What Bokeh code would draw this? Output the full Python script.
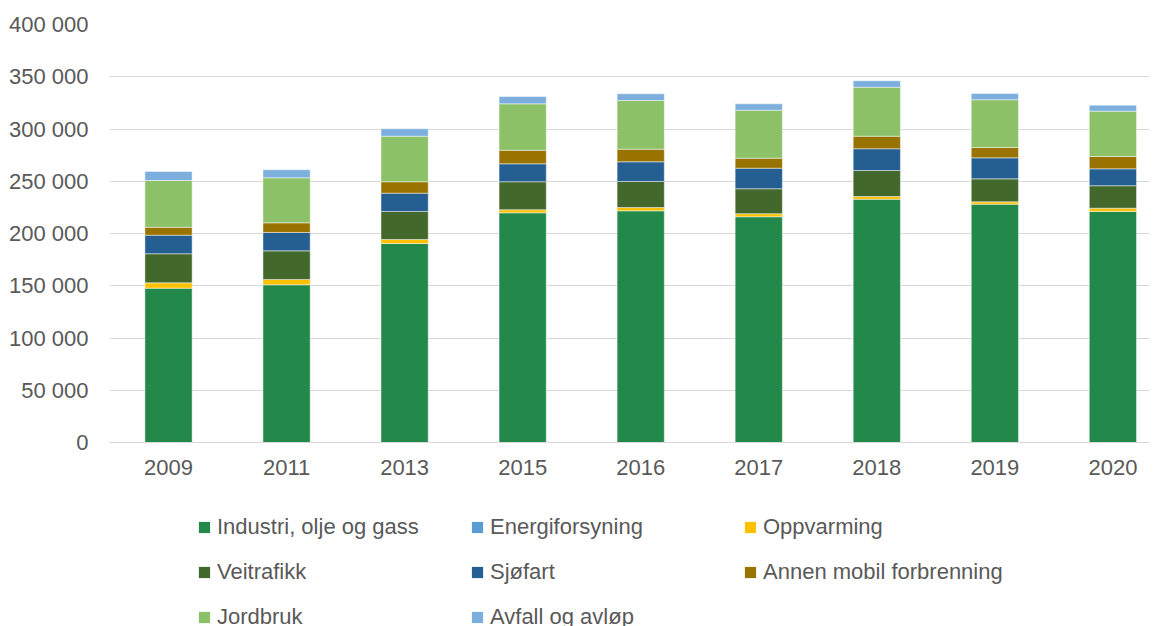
from bokeh.plotting import figure
from bokeh.layouts import column
from bokeh.models import (ColumnDataSource, Range1d, FixedTicker, Legend, LegendItem)
from bokeh.embed import file_html
from bokeh.resources import INLINE

years = ["2009", "2011", "2013", "2015", "2016", "2017", "2018", "2019", "2020"]
industri = [147700, 150900, 190400, 219800, 221700, 216000, 232800, 228100, 221100]
energiforsyning = [0, 0, 0, 0, 0, 0, 0, 0, 0]
oppvarming = [5100, 5100, 3900, 2900, 3200, 2900, 2600, 2200, 3100]
veitrafikk = [27800, 27400, 26800, 26800, 24900, 23900, 24900, 22000, 21500]
sjofart = [17800, 17600, 17500, 17200, 18800, 19700, 20800, 20100, 16200]
annen = [7600, 9200, 10900, 13000, 12100, 9600, 12000, 9900, 11800]
jordbruk = [44700, 43100, 43600, 44400, 46600, 45900, 46900, 45700, 43400]
avfall = [8600, 7700, 7100, 7000, 6400, 6100, 6100, 6000, 5700]

series_names = ["Industri, olje og gass", "Energiforsyning", "Oppvarming",
                "Veitrafikk", "Sjøfart", "Annen mobil forbrenning",
                "Jordbruk", "Avfall og avløp"]
series_values = [industri, energiforsyning, oppvarming, veitrafikk, sjofart,
                 annen, jordbruk, avfall]
colors = ["#23894A", "#5B9BD5", "#FFC000", "#43682B", "#255E91", "#997300",
          "#8CC168", "#7CAFDD"]

y_ticks = [0, 50000, 100000, 150000, 200000, 250000, 300000, 350000, 400000]
y_tick_labels = ["0", "50 000", "100 000", "150 000", "200 000", "250 000",
                 "300 000", "350 000", "400 000"]

FONT = "Liberation Sans"
TXT = "#595959"

xs = [i + 0.5 for i in range(len(years))]
keys = ["s%d" % i for i in range(len(series_names))]
data = {"x": xs}
for k, v in zip(keys, series_values):
    data[k] = v
source = ColumnDataSource(data)

W = 1149
LB = 109
p = figure(width=W, height=482, output_backend="svg", toolbar_location=None,
           x_range=Range1d(0, 8.81), y_range=Range1d(0, 400000),
           min_border_left=LB, min_border_right=0, min_border_top=24,
           min_border_bottom=40)
p.outline_line_color = None
p.background_fill_color = "white"
p.border_fill_color = "white"

renderers = p.vbar_stack(keys, x="x", width=0.4, color=colors, source=source,
                         line_color="white", line_width=1, line_alpha=0.45)
renderers[1].glyph.line_alpha = 0

p.xaxis.ticker = FixedTicker(ticks=xs)
p.xaxis.major_label_overrides = {x: y for x, y in zip(xs, years)}
p.xaxis.axis_line_color = "#D9D9D9"
p.xaxis.axis_line_width = 1
p.xaxis.major_tick_line_color = None
p.xaxis.minor_tick_line_color = None
p.xaxis.major_label_text_font = FONT
p.xaxis.major_label_text_font_size = "22px"
p.xaxis.major_label_text_color = TXT
p.xaxis.major_label_standoff = 11

p.yaxis.ticker = FixedTicker(ticks=y_ticks)
p.yaxis.major_label_overrides = {t: l for t, l in zip(y_ticks, y_tick_labels)}
p.yaxis.axis_line_color = None
p.yaxis.major_tick_line_color = None
p.yaxis.minor_tick_line_color = None
p.yaxis.major_label_text_font = FONT
p.yaxis.major_label_text_font_size = "22px"
p.yaxis.major_label_text_color = TXT
p.yaxis.major_label_standoff = 15

p.xgrid.grid_line_color = None
p.ygrid.grid_line_color = "#D9D9D9"
p.ygrid.grid_line_width = 1

# legend panel: a second figure with hidden stacked renderers (same data),
# used only to supply the legend swatches
LH = 144
lg = figure(width=W, height=LH, output_backend="svg", toolbar_location=None,
            x_range=Range1d(0, 8.81), y_range=Range1d(0, 400000),
            min_border_left=LB, min_border_right=0, min_border_top=0,
            min_border_bottom=0)
lg.axis.visible = False
lg.grid.visible = False
lg.outline_line_color = None
swatches = lg.vbar_stack(keys, x="x", width=0.4, color=colors, source=source,
                         line_color=None)
for r in swatches:
    r.visible = False
items = [LegendItem(label=n, renderers=[r]) for n, r in zip(series_names, swatches)]
legend = Legend(items=items, orientation="horizontal", ncols=3,
                location=(88, LH - 157), padding=0, margin=0, spacing=0,
                glyph_width=14, glyph_height=14, label_standoff=6,
                label_width=253, label_height=45,
                label_text_font=FONT, label_text_font_size="22px",
                label_text_color=TXT, border_line_color=None,
                background_fill_alpha=0, inactive_fill_alpha=0)
lg.add_layout(legend, "center")

layout = column(p, lg, spacing=0)
open("out.html", "w").write(file_html(layout, INLINE))
